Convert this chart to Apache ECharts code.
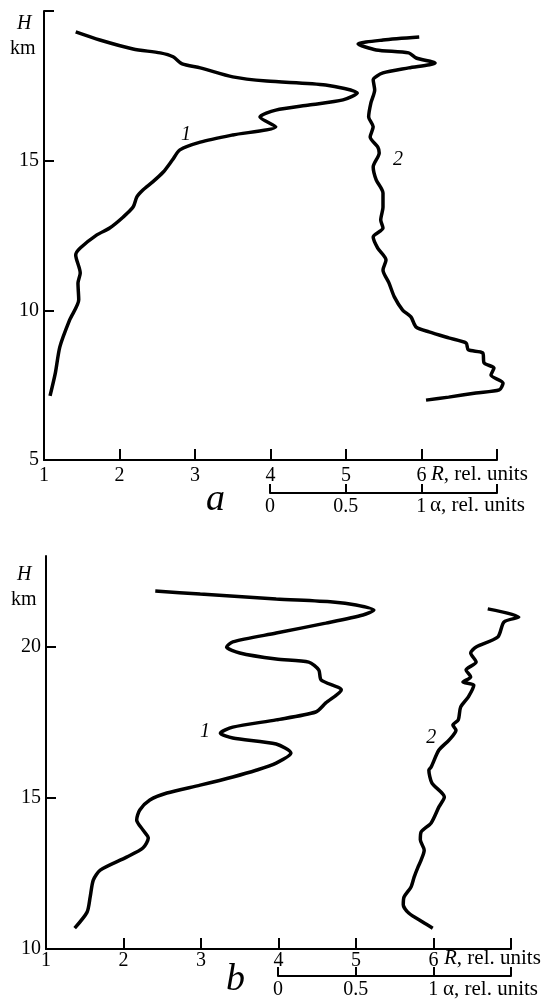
<!DOCTYPE html>
<html>
<head>
<meta charset="utf-8">
<script src="https://cdn.jsdelivr.net/npm/echarts@6/dist/echarts.min.js"></script>
<style>
html, body { margin: 0; padding: 0; background: #fff; }
#main { width: 552px; height: 1001px; }
</style>
</head>
<body>
<div id="main"></div>
<script>
var chart = echarts.init(document.getElementById('main'));

// panel a, curve 1: [R, H km]
var a1 = [[1.42,19.30],[1.74,19.03],[2.18,18.73],[2.54,18.60],[2.71,18.47],[2.83,18.23],
[3.07,18.10],[3.50,17.80],[3.95,17.66],[4.73,17.53],[5.15,17.26],[4.96,17.03],[4.51,16.86],
[4.07,16.69],[3.86,16.46],[4.07,16.13],[3.50,15.86],[3.07,15.62],[2.80,15.36],[2.70,15.02],
[2.58,14.62],[2.44,14.29],[2.31,14.02],[2.23,13.79],[2.18,13.45],[2.05,13.12],[1.87,12.75],
[1.70,12.52],[1.48,12.08],[1.42,11.85],[1.48,11.25],[1.45,10.91],[1.46,10.35],[1.34,9.68],
[1.21,8.78],[1.15,7.90],[1.08,7.14]];

// panel a, curve 2
var a2 = [[5.97,19.13],[5.49,19.03],[5.16,18.90],[5.40,18.70],[5.83,18.60],[5.93,18.43],
[6.18,18.26],[5.83,18.10],[5.49,17.93],[5.36,17.70],[5.38,17.36],[5.33,16.93],[5.30,16.46],
[5.36,16.13],[5.32,15.79],[5.42,15.46],[5.44,15.26],[5.36,14.79],[5.40,14.36],[5.49,13.92],
[5.49,13.45],[5.46,13.02],[5.49,12.75],[5.36,12.45],[5.42,12.08],[5.53,11.68],[5.49,11.35],
[5.57,10.91],[5.64,10.45],[5.75,10.01],[5.86,9.78],[5.93,9.44],[6.10,9.28],[6.36,9.08],
[6.59,8.91],[6.62,8.68],[6.81,8.58],[6.83,8.24],[6.96,8.07],[6.92,7.84],[7.08,7.57],
[7.03,7.34],[6.72,7.24],[6.36,7.10],[6.06,7.00]];

// panel b, curve 1
var b1 = [[2.41,21.84],[2.99,21.74],[3.97,21.58],[4.70,21.48],[5.00,21.38],[5.23,21.21],
[5.09,21.05],[4.61,20.78],[3.97,20.45],[3.41,20.16],[3.33,19.99],[3.50,19.79],[3.97,19.59],
[4.39,19.49],[4.52,19.23],[4.55,18.90],[4.81,18.57],[4.61,18.14],[4.48,17.84],[3.97,17.58],
[3.41,17.34],[3.25,17.14],[3.41,16.98],[3.97,16.78],[4.16,16.48],[3.97,16.15],[3.72,15.92],
[3.41,15.69],[2.99,15.42],[2.56,15.16],[2.34,14.93],[2.21,14.60],[2.17,14.27],[2.25,13.94],
[2.32,13.67],[2.25,13.34],[2.04,13.04],[1.70,12.61],[1.61,12.28],[1.57,11.72],[1.53,11.22],
[1.37,10.69]];

// panel b, curve 2
var b2 = [[6.70,21.25],[7.10,20.98],[6.91,20.82],[6.83,20.32],[6.55,19.99],[6.48,19.79],
[6.55,19.49],[6.42,19.23],[6.48,19.00],[6.38,18.83],[6.52,18.73],[6.45,18.34],[6.35,18.00],
[6.32,17.58],[6.25,17.41],[6.29,17.24],[6.20,16.91],[6.07,16.58],[5.97,16.02],[5.94,15.92],
[5.98,15.49],[6.14,15.03],[6.07,14.70],[5.97,14.17],[5.84,13.87],[5.83,13.61],[5.88,13.27],
[5.84,12.94],[5.80,12.71],[5.75,12.38],[5.71,12.05],[5.62,11.72],[5.61,11.46],[5.68,11.19],
[5.86,10.89],[5.99,10.69]];

var rTicks = [2, 3, 4, 5, 6, 7];
var rLabels = [1, 2, 3, 4, 5, 6];
var alphaTicks = [0, 0.5, 1, 1.5];
var alphaLabels = [0, 0.5, 1];
var hTicksA = [10, 15, 20];
var hLabelsA = [5, 10, 15];
var hTicksB = [15, 20];
var hLabelsB = [10, 15, 20];

// where the curve numbers sit: [R, H]
var tagA1 = [2.88, 15.86], tagA2 = [5.69, 15.02];
var tagB1 = [3.05, 17.18], tagB2 = [5.97, 16.98];

var FONT = '"Liberation Serif", "DejaVu Serif", serif';
var black = { color: '#000', width: 2 };

// plotting area of a panel runs R 1..7.5 so curves may poke past 7 unclipped;
// the visible R axis (1..7) sits in its own strip grid
var RMAX_PLOT = 7.5;

function xAxisR(grid, margin) {
    return {
        type: 'value', gridIndex: grid, min: 1, max: 7, interval: 1,
        axisLine: { show: true, lineStyle: black },
        axisTick: { show: true, inside: true, length: 11, customValues: rTicks, lineStyle: black },
        axisLabel: { customValues: rLabels, color: '#000', fontFamily: FONT, fontSize: 20, margin: margin },
        splitLine: { show: false }
    };
}
function xAxisAlpha(grid, margin) {
    return {
        type: 'value', gridIndex: grid, min: 0, max: 1.5, interval: 0.5,
        axisLine: { show: true, lineStyle: black },
        axisTick: { show: true, inside: true, length: 9, customValues: alphaTicks, lineStyle: black },
        axisLabel: { customValues: alphaLabels, color: '#000', fontFamily: FONT, fontSize: 20, margin: margin },
        splitLine: { show: false }
    };
}
function xAxisPlot(grid) {
    return { type: 'value', gridIndex: grid, min: 1, max: RMAX_PLOT, show: false, splitLine: { show: false } };
}
function yAxisH(grid, min, max, ticks, labels) {
    return {
        type: 'value', gridIndex: grid, min: min, max: max, interval: 5,
        axisLine: { show: true, lineStyle: black },
        axisTick: { show: true, inside: true, length: 10, customValues: ticks, lineStyle: black },
        axisLabel: { customValues: labels, color: '#000', fontFamily: FONT, fontSize: 20, margin: 5 },
        splitLine: { show: false }
    };
}
function hiddenY(grid) {
    return { type: 'value', gridIndex: grid, show: false, min: 0, max: 1 };
}
function tag(text, coord) {
    return {
        symbol: 'circle', symbolSize: 1,
        itemStyle: { color: 'rgba(0,0,0,0)' },
        label: { show: true, position: 'inside', formatter: text, color: '#000', fontFamily: FONT, fontStyle: 'italic', fontSize: 20 },
        data: [{ coord: coord }]
    };
}
function curve(name, idx, data, t, coord) {
    return {
        name: name, type: 'line', xAxisIndex: idx, yAxisIndex: idx,
        data: data, showSymbol: false, smooth: 0.25, clip: false,
        lineStyle: { color: '#000', width: 3.5 },
        markPoint: tag(t, coord)
    };
}

var wA = 453, wB = 465;
var option = {
    backgroundColor: '#fff',
    animation: false,
    grid: [
        { left: 44, top: 11, width: wA * (RMAX_PLOT - 1) / 6, height: 449 },
        { left: 46, top: 556, width: wB * (RMAX_PLOT - 1) / 6, height: 393 },
        { left: 44, top: 400, width: wA, height: 60 },
        { left: 46, top: 890, width: wB, height: 59 },
        { left: 270, top: 440, width: 227, height: 53 },
        { left: 278, top: 930, width: 233, height: 46 }
    ],
    xAxis: [xAxisPlot(0), xAxisPlot(1), xAxisR(2, 6), xAxisR(3, 2), xAxisAlpha(4, 4), xAxisAlpha(5, 4)],
    yAxis: [
        yAxisH(0, 5, 20, hTicksA, hLabelsA),
        yAxisH(1, 10, 23, hTicksB, hLabelsB),
        hiddenY(2), hiddenY(3), hiddenY(4), hiddenY(5)
    ],
    series: [
        curve('a1', 0, a1, '1', tagA1),
        curve('a2', 0, a2, '2', tagA2),
        curve('b1', 1, b1, '1', tagB1),
        curve('b2', 1, b2, '2', tagB2)
    ],
    graphic: [
        { type: 'text', left: 17, top: 14, style: { text: 'H', font: 'italic 20px ' + FONT, fill: '#000' } },
        { type: 'text', left: 10, top: 39, style: { text: 'km', font: '20px ' + FONT, fill: '#000' } },
        { type: 'text', left: 17, top: 565, style: { text: 'H', font: 'italic 20px ' + FONT, fill: '#000' } },
        { type: 'text', left: 11, top: 590, style: { text: 'km', font: '20px ' + FONT, fill: '#000' } },
        { type: 'text', left: 206, top: 481, style: { text: 'a', font: 'italic 38px ' + FONT, fill: '#000' } },
        { type: 'text', left: 226, top: 961, style: { text: 'b', font: 'italic 38px ' + FONT, fill: '#000' } },
        { type: 'text', left: 431, top: 464, style: { text: '{i|R}, rel. units', font: '21px ' + FONT, fill: '#000', rich: { i: { fontStyle: 'italic', fontFamily: FONT, fontSize: 21 } } } },
        { type: 'text', left: 430, top: 495, style: { text: 'α, rel. units', font: '21px ' + FONT, fill: '#000' } },
        { type: 'text', left: 444, top: 948, style: { text: '{i|R}, rel. units', font: '21px ' + FONT, fill: '#000', rich: { i: { fontStyle: 'italic', fontFamily: FONT, fontSize: 21 } } } },
        { type: 'text', left: 443, top: 979, style: { text: 'α, rel. units', font: '21px ' + FONT, fill: '#000' } }
    ]
};

chart.setOption(option);
</script>
</body>
</html>
